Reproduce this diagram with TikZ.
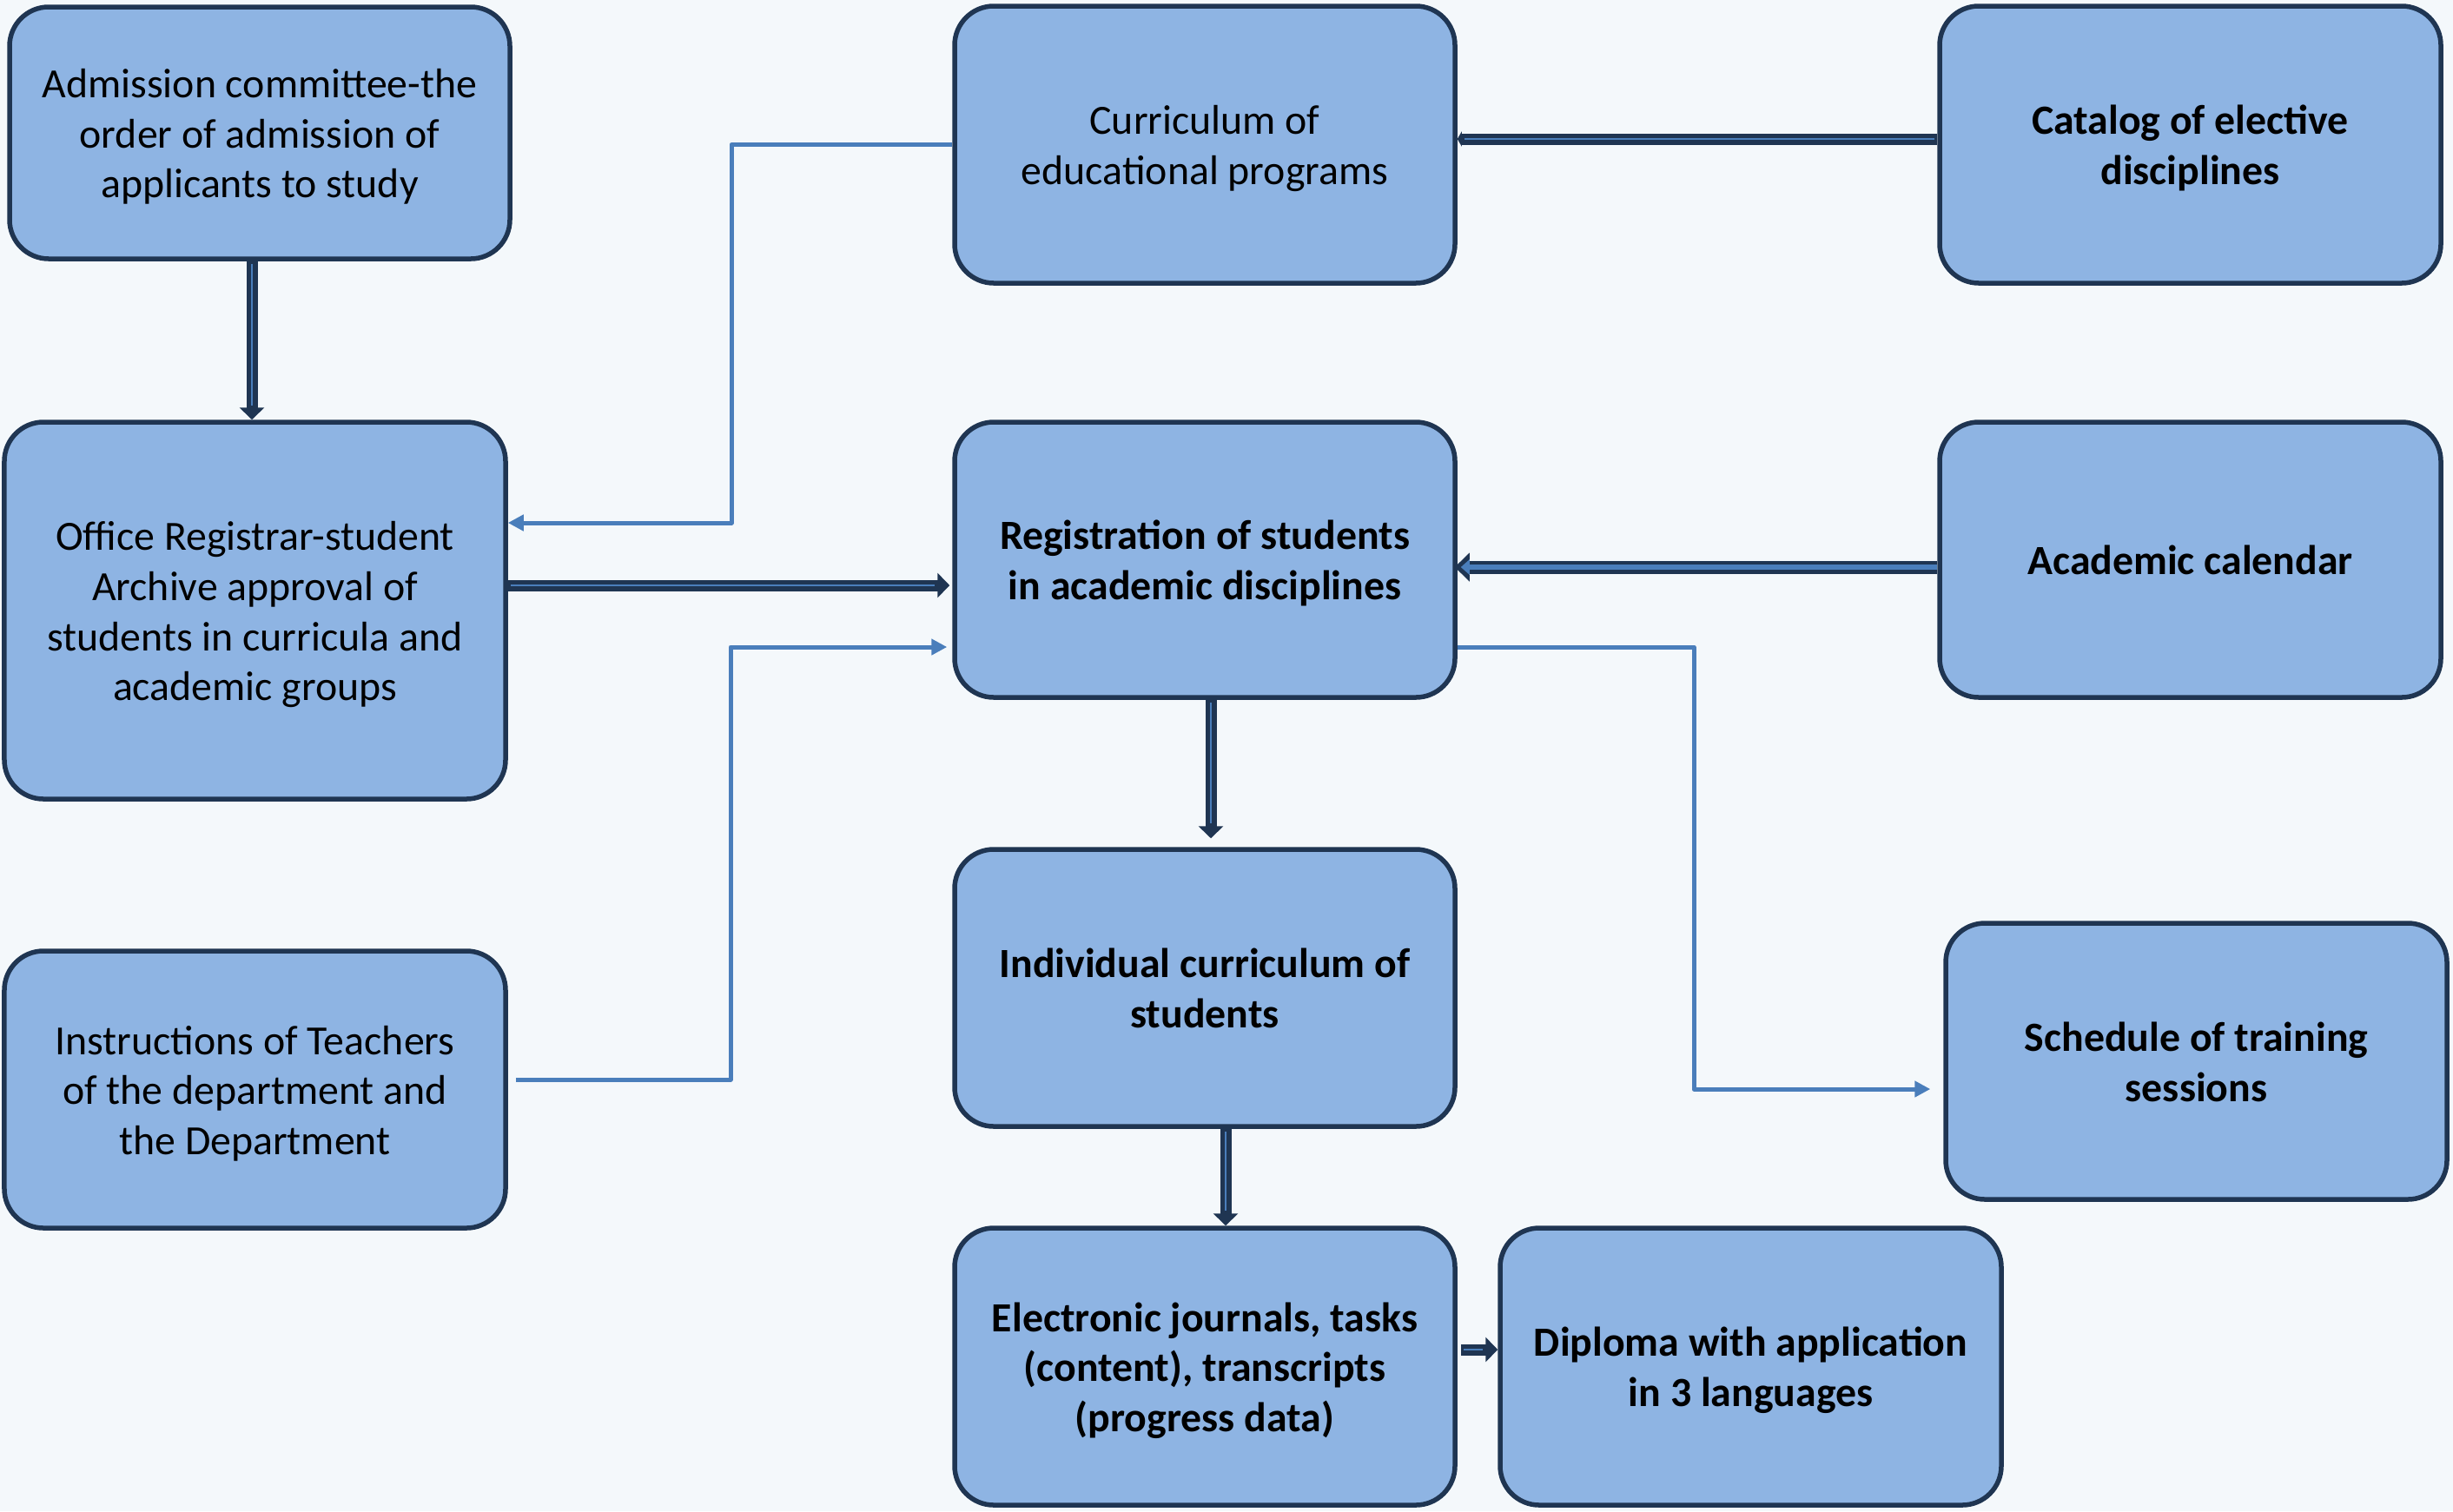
\documentclass[tikz,border=0pt]{standalone}
\usepackage{fontspec}
\setmainfont{Carlito}
\usetikzlibrary{arrows.meta,calc}
\definecolor{bg}{HTML}{F4F8FB}
\definecolor{boxfill}{HTML}{8EB4E3}
\definecolor{navy}{HTML}{1F3552}
\definecolor{lblue}{HTML}{4A7EBB}
\newcommand\lnA{\rule{0pt}{13.5pt}}
\newcommand\lnZ{\rule[-3.7pt]{0pt}{0pt}}
\begin{document}
\begin{tikzpicture}[x=1cm,y=1cm,
 box/.style={draw=navy, line width=0.055cm, fill=boxfill, rounded corners=0.45cm,
   minimum width=5.76cm, align=center, inner sep=0pt,
   font=\fontsize{13.6}{16.4}\selectfont},
 bbox/.style={box, font=\fontsize{13.6}{16.4}\selectfont\bfseries},
 thinarr/.style={draw=lblue, line width=0.05cm, line join=round,
   -{Triangle[width=0.18cm,length=0.18cm]}},
 dbl/.style={draw=navy, line width=0.13cm, -{Triangle[width=0.28cm,length=0.14cm]}},
 dblin/.style={draw=lblue, line width=0.028cm, shorten <=0.03cm},
]
\fill[bg] (0,0) rectangle (28.24,-17.40);
\useasboundingbox (0,0) rectangle (28.24,-17.40);

% boxes
\node[box, minimum height=2.90cm] (adm) at (2.99,-1.53)
  {\lnA Admission committee-the\\order of admission of\\applicants to study\lnZ};
\node[box, minimum height=4.34cm, minimum width=5.77cm] (off) at (2.935,-7.03)
  {\lnA Office Registrar-student\\Archive approval of\\students in curricula and\\academic groups\lnZ};
\node[box, minimum height=3.19cm, minimum width=5.77cm] (ins) at (2.935,-12.545)
  {\lnA Instructions of Teachers\\of the department and\\the Department\lnZ};
\node[box, minimum height=3.19cm] (cur) at (13.87,-1.665)
  {\lnA Curriculum of\\educational programs\lnZ};
\node[bbox, minimum height=3.17cm] (reg) at (13.87,-6.445)
  {\lnA Registration of students\\in academic disciplines\lnZ};
\node[bbox, minimum height=3.19cm] (ind) at (13.87,-11.375)
  {\lnA Individual curriculum of\\students\lnZ};
\node[bbox, minimum height=3.19cm] (ele) at (13.87,-15.735)
  {\lnA Electronic journals, tasks\\(content), transcripts\\(progress data)\lnZ};
\node[bbox, minimum height=3.19cm, minimum width=5.77cm] (dip) at (20.155,-15.735)
  {\lnA Diploma with application\\in 3 languages\lnZ};
\node[bbox, minimum height=3.19cm, minimum width=5.77cm] (cat) at (25.215,-1.665)
  {\lnA Catalog of elective\\disciplines\lnZ};
\node[bbox, minimum height=3.17cm, minimum width=5.77cm] (aca) at (25.215,-6.445)
  {\lnA Academic calendar\lnZ};
\node[bbox, minimum height=3.18cm, minimum width=5.77cm] (sch) at (25.285,-12.22)
  {\lnA Schedule of training\\sessions\lnZ};

% helper coordinates
\coordinate (vA) at (2.90,0);
\coordinate (hC) at (0,-6.02);
\coordinate (vC) at (8.42,0);
\coordinate (hO) at (0,-6.74);
\coordinate (hI) at (0,-12.43);
\coordinate (vI) at (8.41,0);
\coordinate (hR) at (0,-7.45);
\coordinate (hK) at (0,-1.60);
\coordinate (hA) at (0,-6.53);
\coordinate (vR) at (13.94,0);
\coordinate (vN) at (14.11,0);
\coordinate (hE) at (0,-15.54);
\coordinate (vS) at (19.50,0);
\coordinate (hS) at (0,-12.54);

% thin connectors
\draw[thinarr] (cur.west) -| (vC |- hC) -- (off.east |- hC);
\draw[thinarr, shorten >=0.06cm] ($(ins.east |- hI)+(0.09,0)$) -| (vI |- hR) -- (reg.west |- hR);
\draw[thinarr, shorten >=0.15cm] (reg.east |- hR) -| (vS |- hS) -- (sch.west |- hS);

% double connectors
\draw[dbl] (adm.south -| vA) -- (off.north -| vA);
\draw[dblin, shorten >=0.16cm] (adm.south -| vA) -- (off.north -| vA);

\draw[dbl, shorten >=0.03cm] (off.east |- hO) -- (reg.west |- hO);
\draw[dblin, shorten >=0.2cm] (off.east |- hO) -- (reg.west |- hO);

\draw[dbl, -{Triangle[width=0.17cm,length=0.05cm]}] (cat.west |- hK) -- (cur.east |- hK);
\draw[dblin, shorten >=0.08cm] (cat.west |- hK) -- (cur.east |- hK);

\draw[dbl, line width=0.15cm, -{Triangle[width=0.32cm,length=0.17cm]}, shorten >=-0.03cm] (aca.west |- hA) -- (reg.east |- hA);
\draw[draw=lblue, line width=0.06cm, -{Triangle[width=0.17cm,length=0.10cm]}, shorten >=0.04cm] (aca.west |- hA) -- (reg.east |- hA);

\draw[dbl, shorten >=0.1cm] (reg.south -| vR) -- (ind.north -| vR);
\draw[dblin, shorten >=0.27cm] (reg.south -| vR) -- (ind.north -| vR);

\draw[dbl] (ind.south -| vN) -- (ele.north -| vN);
\draw[dblin, shorten >=0.17cm] (ind.south -| vN) -- (ele.north -| vN);

\draw[dbl, shorten <=0.04cm] (ele.east |- hE) -- (dip.west |- hE);
\draw[dblin, shorten <=0.07cm, shorten >=0.17cm] (ele.east |- hE) -- (dip.west |- hE);
\end{tikzpicture}
\end{document}
